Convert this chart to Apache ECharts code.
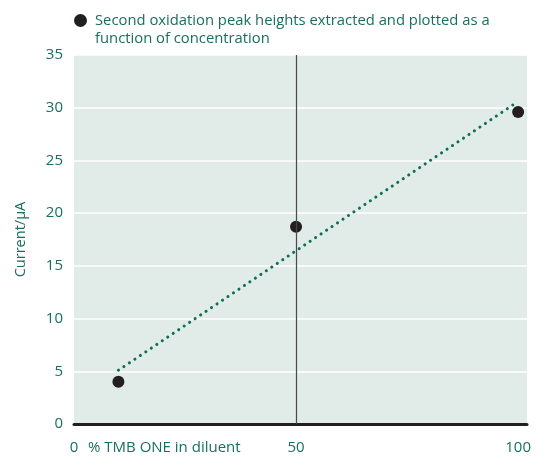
<!DOCTYPE html>
<html><head><meta charset="utf-8">
<script src="https://cdn.jsdelivr.net/npm/echarts@6/dist/echarts.min.js"></script>
<style>html,body{margin:0;padding:0;background:#fff}#c{width:548px;height:458px}</style>
</head><body><div id="c"></div>
<script>
const xValues = [10, 50, 100];
const yValues = [4.0, 18.7, 29.6];
const trendX = [10, 100];
const trendY = [5.1, 30.6];
const yTicks = [0, 5, 10, 15, 20, 25, 30, 35];
const xTicks = [0, 50, 100];
const seriesName = 'Second oxidation peak heights extracted and plotted as a';
const seriesName2 = 'function of concentration';
const xAxisTitle = '% TMB ONE in diluent';
const yAxisTitle = 'Current/\u03bcA';

const green = '#17705c';
const font = 'Open Sans';
const chart = echarts.init(document.getElementById('c'));
chart.setOption({
  animation: false,
  grid: { left: 74, right: 21, top: 55, bottom: 34, show: true, backgroundColor: '#e1ebe7', borderWidth: 0 },
  legend: {
    left: 74, top: 13, padding: 0, icon: 'circle', itemWidth: 13, itemHeight: 13, itemGap: 0,
    data: [{ name: seriesName, itemStyle: { color: '#231f20', opacity: 1 } }],
    textStyle: { color: green, fontSize: 14.8, fontFamily: font, padding: [2, 0, 0, 3] }
  },
  xAxis: {
    type: 'value', min: 0, max: 102, interval: 50,
    axisLine: { show: true, lineStyle: { color: '#231f20', width: 3 } },
    axisTick: { show: false },
    splitLine: { show: false },
    axisLabel: {
      color: green, fontSize: 15, fontFamily: font, margin: 16, showMaxLabel: false,
      formatter: v => xTicks.includes(v) ? String(v) : ''
    }
  },
  yAxis: {
    type: 'value', min: 0, max: 35, interval: 5,
    name: yAxisTitle, nameLocation: 'middle', nameGap: 46, nameRotate: 90,
    nameTextStyle: { color: green, fontSize: 14.5, fontFamily: font },
    axisLine: { show: false }, axisTick: { show: false },
    splitLine: { show: true, lineStyle: { color: '#ffffff', width: 1.5 } },
    axisLabel: { color: green, fontSize: 15, fontFamily: font, margin: 11,
      formatter: v => yTicks.includes(v) ? String(v) : '' }
  },
  graphic: [
    { type: 'text', left: 88, top: 440,
      style: { text: xAxisTitle, fill: green, fontSize: 15, fontFamily: font } },
    { type: 'text', left: 95, top: 31,
      style: { text: seriesName2, fill: green, fontSize: 14.8, fontFamily: font } }
  ],
  series: [
    {
      name: 'trend', type: 'line', data: trendX.map((x, i) => [x, trendY[i]]),
      showSymbol: false, silent: true, z: 2,
      lineStyle: { color: '#0e6e5a', width: 3, type: [0.1, 6.5], cap: 'round' },
      markLine: {
        silent: true, symbol: 'none', label: { show: false },
        lineStyle: { color: '#4a4a4a', width: 1.2, type: 'solid' },
        data: [{ xAxis: 50 }]
      }
    },
    {
      name: seriesName, type: 'scatter', data: xValues.map((x, i) => [x, yValues[i]]),
      symbolSize: 12, z: 3, itemStyle: { color: '#231f20', opacity: 1 }
    }
  ]
});
</script></body></html>
